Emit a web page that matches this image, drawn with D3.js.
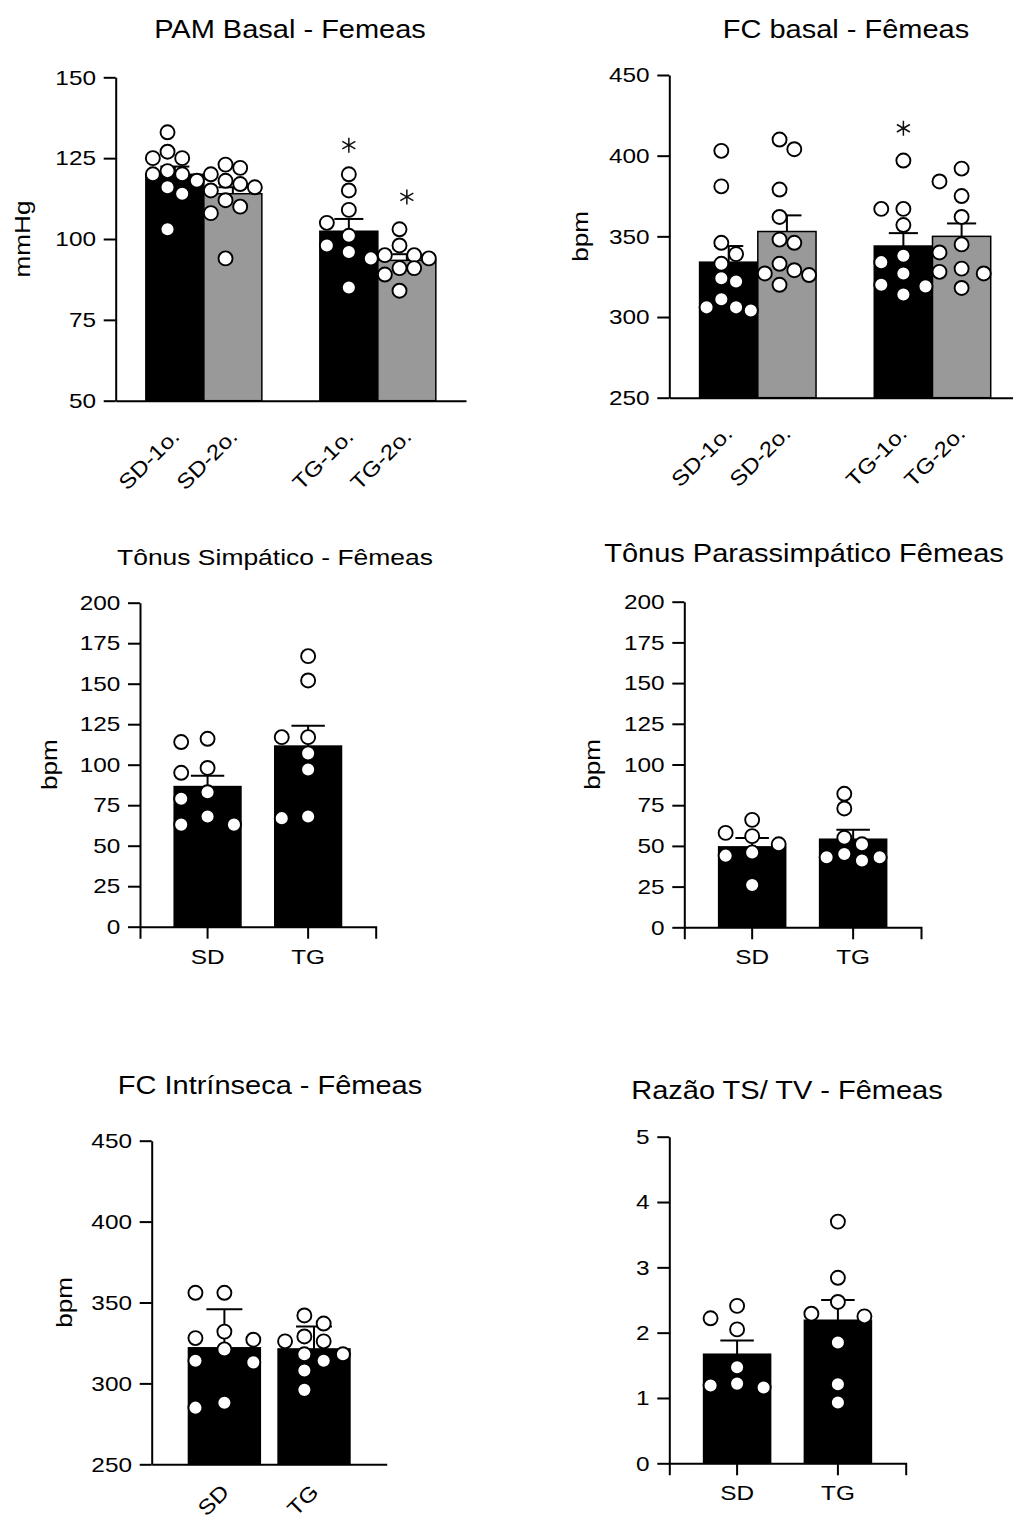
<!DOCTYPE html>
<html><head><meta charset="utf-8">
<script src="https://cdn.jsdelivr.net/npm/d3@7"></script>
<style>
body{margin:0;background:#fff}
svg{display:block;background:#fff}
text{font-family:"Liberation Sans",Arial,sans-serif;fill:#000}
</style>
</head><body>
<svg id="chart" width="1013" height="1515"></svg>
<script>
// ================= DATA =================
const fourGroups = ["SD-1o.", "SD-2o.", "TG-1o.", "TG-2o."];
const twoGroups = ["SD", "TG"];

// PAM Basal - Femeas (mmHg)
const pamMeans = [120, 114, 102.4, 93.4];
const pamSEM = [2.4, 2.0, 3.8, 1.9];
const pamStars = [null, null, 129, 113];
const pamSD1 = [133, 127, 125, 125, 121, 120, 120, 118, 116, 114, 103];
const pamSD2 = [123, 122, 120, 118, 117, 116, 115, 112, 110, 108, 94];
const pamTG1 = [120, 115, 109, 105, 101, 98, 96, 94, 85];
const pamTG2 = [103, 98, 95, 95, 94, 91, 91, 89, 84];
const pamTicks = [50, 75, 100, 125, 150];

// FC basal - Fêmeas (bpm)
const fcMeans = [334, 353, 344, 350];
const fcSEM = [10, 10, 8, 8];
const fcStars = [null, null, 417, null];
const fcSD1 = [403, 381, 346, 339, 333, 324, 322, 311, 306, 306, 304];
const fcSD2 = [410, 404, 379, 362, 348, 346, 333, 329, 327, 326, 320];
const fcTG1 = [397, 367, 367, 357, 338, 334, 327, 320, 319, 314];
const fcTG2 = [392, 384, 375, 362, 345, 340, 330, 328, 327, 318];
const fcTicks = [250, 300, 350, 400, 450];

// Tônus Simpático - Fêmeas (bpm)
const simpMeans = [86.5, 111.5];
const simpSEM = [6.7, 12.6];
const simpSD = [116, 114, 98, 95, 83, 79, 68, 63, 63];
const simpTG = [167, 152, 117, 117, 107, 97, 68, 67];

// Tônus Parassimpático Fêmeas (bpm)
const paraMeans = [49.4, 54.1];
const paraSEM = [5.4, 5.8];
const paraSD = [66, 58, 56, 51, 46, 44, 26];
const paraTG = [82, 73, 55, 51, 45, 43, 43, 41];
const tonusTicks = [0, 25, 50, 75, 100, 125, 150, 175, 200];

// FC Intrínseca - Fêmeas (bpm)
const intrMeans = [322, 321.3];
const intrSEM = [23.9, 13.9];
const intrSD = [356, 356, 332, 328, 327, 321, 314, 313, 288, 285];
const intrTG = [342, 337, 329, 326, 326, 318, 318, 314, 308, 296];
const intrTicks = [250, 300, 350, 400, 450];

// Razão TS/ TV - Fêmeas
const razaoMeans = [1.67, 2.19];
const razaoSEM = [0.21, 0.31];
const razaoSD = [2.41, 2.22, 2.05, 1.47, 1.22, 1.19, 1.16];
const razaoTG = [3.70, 2.84, 2.47, 2.29, 2.25, 1.85, 1.21, 0.93];
const razaoTicks = [0, 1, 2, 3, 4, 5];

// ================= DRAWING =================
const svg = d3.select("#chart");
const SX = 1.16;      // horizontal stretch of the lettering
const R = 7;          // dot radius
const BLACK = "#000", GRAY = "#999999";

function swarm(values, left, width, y) {
  const sorted = values.slice().sort((a, b) => b - a);
  let best = null;
  for (let n = 3; n <= 5; n++) {
    const cols = d3.range(n).map(i => left + R + i * (width - 2 * R) / (n - 1));
    const order = d3.range(n).sort((a, b) => Math.abs(a - (n - 1) / 2) - Math.abs(b - (n - 1) / 2) || a - b);
    const placed = []; let fails = 0;
    for (const v of sorted) {
      const py = y(v);
      const dist = ci => placed.length ? d3.min(placed, p => Math.hypot(p.x - cols[ci], p.y - py)) : Infinity;
      let c = order.find(ci => dist(ci) >= 2 * R + 0.5);
      if (c === undefined) { fails++; c = d3.greatest(order, ci => dist(ci)); }
      placed.push({x: cols[c], y: py});
    }
    if (!best || fails < best.fails) best = {placed, fails};
    if (fails === 0) break;
  }
  return best.placed;
}

function asterisk(cx, cy, r) {
  const p = d3.path();
  [90, 30, -30].forEach(a => {
    const t = a * Math.PI / 180;
    p.moveTo(cx - r * Math.cos(t), cy - r * Math.sin(t));
    p.lineTo(cx + r * Math.cos(t), cy + r * Math.sin(t));
  });
  return p.toString();
}

function panel(cfg) {
  const g = svg.append("g");
  const x = d3.scaleBand().domain(cfg.slots).range([cfg.x0, cfg.x1])
    .paddingInner(cfg.pi).paddingOuter(cfg.po);
  const y = d3.scaleLinear().domain(cfg.domain).range([cfg.yb, cfg.yt]);
  const bw = x.bandwidth();
  const base = y(cfg.domain[0]);

  // bars
  g.selectAll("rect.bar").data(cfg.groups).join("rect")
    .attr("class", "bar")
    .attr("x", d => x(d)).attr("width", bw)
    .attr("y", (d, i) => y(cfg.means[i]))
    .attr("height", (d, i) => base - y(cfg.means[i]))
    .attr("fill", (d, i) => cfg.fills[i])
    .attr("stroke", BLACK).attr("stroke-width", 1.5);

  // error bars (upward SEM)
  cfg.groups.forEach((d, i) => {
    const cx = x(d) + bw / 2, y0 = y(cfg.means[i]), y1 = y(cfg.means[i] + cfg.sem[i]);
    g.append("line").attr("x1", cx).attr("x2", cx).attr("y1", y0).attr("y2", y1)
      .attr("stroke", BLACK).attr("stroke-width", 2);
    g.append("line").attr("x1", cx - bw * 0.25).attr("x2", cx + bw * 0.25).attr("y1", y1).attr("y2", y1)
      .attr("stroke", BLACK).attr("stroke-width", 2);
  });

  // points
  cfg.groups.forEach((d, i) => {
    const pts = swarm(cfg.points[i], x(d), bw, y);
    g.selectAll(null).data(pts).join("circle")
      .attr("cx", p => p.x).attr("cy", p => p.y).attr("r", R)
      .attr("fill", "#fff").attr("stroke", BLACK).attr("stroke-width", 1.9);
  });

  // stars
  if (cfg.stars) cfg.groups.forEach((d, i) => {
    if (cfg.stars[i] == null) return;
    g.append("path").attr("d", asterisk(x(d) + bw / 2, y(cfg.stars[i]), 7.5))
      .attr("stroke", "#111").attr("stroke-width", 1.5).attr("fill", "none");
  });

  // y axis
  const ya = g.append("g").attr("transform", `translate(${cfg.x0},0)`)
    .call(d3.axisLeft(y).tickValues(cfg.ticks).tickSize(12).tickSizeOuter(0).tickPadding(5).tickFormat(d3.format("d")));
  ya.attr("font-family", null).attr("font-size", 21).attr("color", BLACK);
  ya.selectAll("path,line").attr("stroke-width", 2);
  ya.selectAll(".tick text").attr("transform", `scale(${SX},1)`);

  // x axis
  const xa = g.append("g").attr("transform", `translate(0,${base})`)
    .call(d3.axisBottom(x).tickValues(cfg.groups).tickSizeOuter(0).tickSize(cfg.xTicks ? 12 : 0).tickPadding(10));
  xa.attr("font-family", null).attr("font-size", 21).attr("color", BLACK);
  xa.selectAll("path,line").attr("stroke-width", 2);
  if (cfg.rotate) {
    xa.selectAll(".tick text").attr("y", 0).attr("dy", 0).attr("text-anchor", "end")
      .attr("transform", `translate(${cfg.rotate[0]},${cfg.rotate[1]}) rotate(-45) scale(${SX},1)`);
  } else {
    xa.selectAll(".tick text").attr("transform", `scale(${SX},1)`);
  }

  // y label
  if (cfg.ylabel) {
    g.append("text").attr("text-anchor", "middle").attr("font-size", 22.5)
      .attr("transform", `translate(${cfg.ylx},${(cfg.yb + cfg.yt) / 2}) rotate(-90) scale(${SX},1)`)
      .text(cfg.ylabel);
  }
  // title
  g.append("text").attr("text-anchor", "middle").attr("font-size", cfg.title[3] || 25)
    .attr("transform", `translate(${cfg.title[1]},${cfg.title[2]}) scale(${SX},1)`)
    .text(cfg.title[0]);
}

const fourSlots = [fourGroups[0], fourGroups[1], "gap", fourGroups[2], fourGroups[3]];

panel({ slots: fourSlots, groups: fourGroups, x0: 115.7, x1: 466, pi: 0, po: 0.52,
  domain: [50, 150], yb: 400.7, yt: 77.3, ticks: pamTicks,
  means: pamMeans, sem: pamSEM, stars: pamStars, points: [pamSD1, pamSD2, pamTG1, pamTG2],
  fills: [BLACK, GRAY, BLACK, GRAY], rotate: [6, 37], ylabel: "mmHg", ylx: 30,
  title: ["PAM Basal - Femeas", 290, 38] });

panel({ slots: fourSlots, groups: fourGroups, x0: 669.3, x1: 1021, pi: 0, po: 0.52,
  domain: [250, 450], yb: 397.7, yt: 75, ticks: fcTicks,
  means: fcMeans, sem: fcSEM, stars: fcStars, points: [fcSD1, fcSD2, fcTG1, fcTG2],
  fills: [BLACK, GRAY, BLACK, GRAY], rotate: [5, 37], ylabel: "bpm", ylx: 588,
  title: ["FC basal - Fêmeas", 846, 38] });

panel({ slots: twoGroups, groups: twoGroups, x0: 140, x1: 375.7, pi: 0.336, po: 0.34,
  domain: [0, 200], yb: 926.7, yt: 602.7, ticks: tonusTicks,
  means: simpMeans, sem: simpSEM, points: [simpSD, simpTG],
  fills: [BLACK, BLACK], xTicks: true, ylabel: "bpm", ylx: 57,
  title: ["Tônus Simpático - Fêmeas", 275, 565, 22.8] });

panel({ slots: twoGroups, groups: twoGroups, x0: 684.3, x1: 921, pi: 0.336, po: 0.34,
  domain: [0, 200], yb: 927.3, yt: 601.7, ticks: tonusTicks,
  means: paraMeans, sem: paraSEM, points: [paraSD, paraTG],
  fills: [BLACK, BLACK], xTicks: true, ylabel: "bpm", ylx: 600,
  title: ["Tônus Parassimpático Fêmeas", 804, 562] });

panel({ slots: twoGroups, groups: twoGroups, x0: 151.7, x1: 386.7, pi: 0.198, po: 0.41,
  domain: [250, 450], yb: 1464.3, yt: 1140.7, ticks: intrTicks,
  means: intrMeans, sem: intrSEM, points: [intrSD, intrTG],
  fills: [BLACK, BLACK], rotate: [6, 29], ylabel: "bpm", ylx: 72,
  title: ["FC Intrínseca - Fêmeas", 270, 1094] });

panel({ slots: twoGroups, groups: twoGroups, x0: 669.3, x1: 905.7, pi: 0.335, po: 0.34,
  domain: [0, 5], yb: 1463.3, yt: 1136.7, ticks: razaoTicks,
  means: razaoMeans, sem: razaoSEM, points: [razaoSD, razaoTG],
  fills: [BLACK, BLACK], xTicks: true,
  title: ["Razão TS/ TV - Fêmeas", 787, 1099] });
</script>
</body></html>
